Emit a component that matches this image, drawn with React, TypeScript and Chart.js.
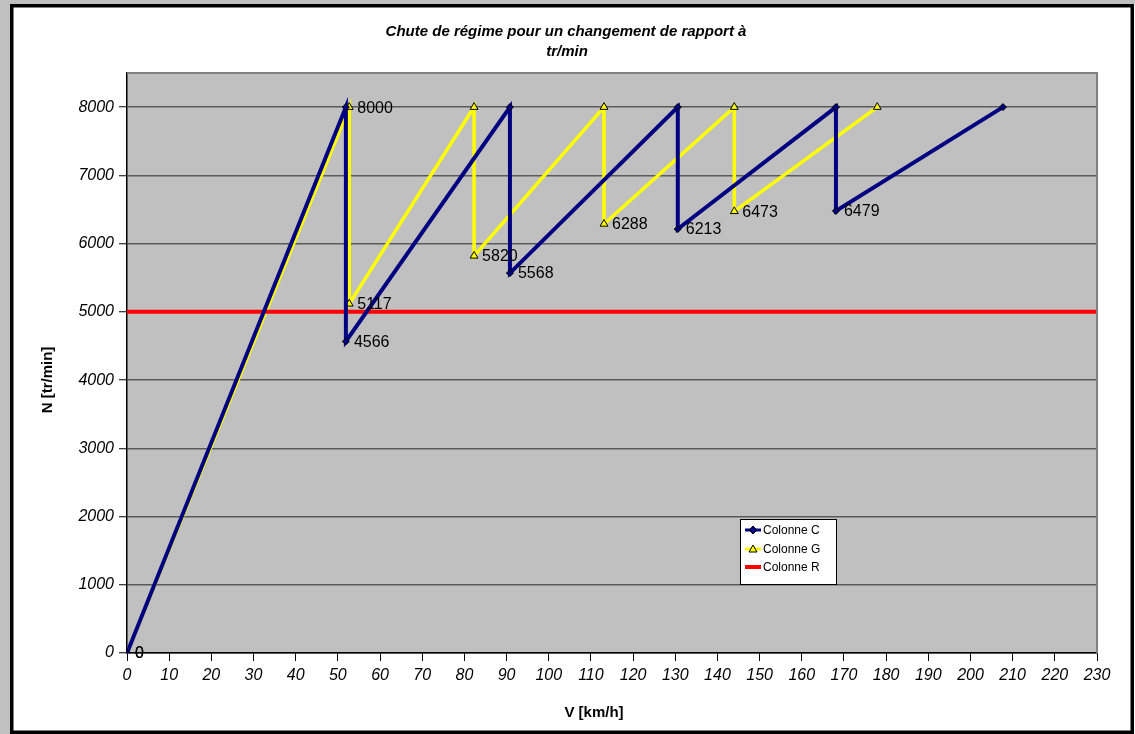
import React, { useEffect, useRef } from "react";
import { Chart, registerables } from "chart.js";

Chart.register(...registerables);

// Colonne C (navy)
const speedsC = [0, 51.9, 51.9, 90.8, 90.8, 130.6, 130.6, 168.1, 168.1, 207.7];
const rpmC = [0, 8000, 4566, 8000, 5568, 8000, 6213, 8000, 6479, 8000];
const labelIdxC = [0, 2, 4, 6, 8];

// Colonne G (yellow)
const speedsG = [0, 52.7, 52.7, 82.3, 82.3, 113.1, 113.1, 144.0, 144.0, 177.9];
const rpmG = [0, 8000, 5117, 8000, 5820, 8000, 6288, 8000, 6473, 8000];
const labelIdxG = [0, 1, 2, 4, 6, 8];

// Colonne R (red)
const speedsR = [0, 230];
const rpmR = [5000, 5000];

const yTickValues = [0, 1000, 2000, 3000, 4000, 5000, 6000, 7000, 8000];
const xTickValues = [0, 10, 20, 30, 40, 50, 60, 70, 80, 90, 100, 110, 120, 130, 140, 150, 160, 170, 180, 190, 200, 210, 220, 230];

const titleLines = ["Chute de régime pour un changement de rapport à", "tr/min"];
const xTitle = "V [km/h]";
const yTitle = "N [tr/min]";
const legendNames = ["Colonne C", "Colonne G", "Colonne R"];

const NAVY = "#000080";
const YELLOW = "#ffff00";
const RED = "#ff0000";
const FONT = "'Liberation Sans', Arial, sans-serif";

const toPts = (xs: number[], ys: number[]) => xs.map((x, i) => ({ x, y: ys[i] }));

const decorPlugin = {
  id: "decor",
  beforeDraw(chart: any) {
    const { ctx, width, height, chartArea } = chart;
    ctx.save();
    ctx.fillStyle = "#c0c0c0";
    ctx.fillRect(0, 0, width, height);
    ctx.fillStyle = "#ffffff";
    ctx.fillRect(10, 4, width - 10, height - 4);
    ctx.strokeStyle = "#000";
    ctx.lineWidth = 3.5;
    ctx.strokeRect(11.75, 5.75, 1120.5, 726.5);
    ctx.fillStyle = "#c0c0c0";
    ctx.fillRect(chartArea.left, chartArea.top, chartArea.right - chartArea.left, chartArea.bottom - chartArea.top);
    ctx.restore();
  },
  afterDraw(chart: any) {
    const { ctx, chartArea } = chart;
    ctx.save();
    // plot area border top/right
    ctx.strokeStyle = "#808080";
    ctx.lineWidth = 2;
    ctx.beginPath();
    ctx.moveTo(chartArea.left, chartArea.top);
    ctx.lineTo(chartArea.right, chartArea.top);
    ctx.lineTo(chartArea.right, chartArea.bottom);
    ctx.stroke();

    // title
    ctx.fillStyle = "#000";
    ctx.textAlign = "center";
    ctx.textBaseline = "alphabetic";
    ctx.font = `italic bold 15px ${FONT}`;
    ctx.fillText(titleLines[0], 566, 36);
    ctx.fillText(titleLines[1], 567, 56);

    // axis titles
    ctx.font = `bold 15px ${FONT}`;
    ctx.fillText(xTitle, 594, 717);
    ctx.save();
    ctx.translate(52, 380);
    ctx.rotate(-Math.PI / 2);
    ctx.fillText(yTitle, 0, 0);
    ctx.restore();

    // data labels
    ctx.font = `16px ${FONT}`;
    ctx.textAlign = "left";
    ctx.textBaseline = "middle";
    ctx.fillStyle = "#000";
    const drawLabels = (dsIndex: number, idxs: number[], vals: number[]) => {
      const meta = chart.getDatasetMeta(dsIndex);
      idxs.forEach((i) => {
        const el = meta.data[i];
        if (!el) return;
        ctx.fillText(String(vals[i]), el.x + 8, el.y + 1);
      });
    };
    drawLabels(0, labelIdxC, rpmC);
    drawLabels(1, labelIdxG, rpmG);

    // legend
    const lx = 740, ly = 519, lw = 96, lh = 65;
    ctx.fillStyle = "#fff";
    ctx.fillRect(lx, ly, lw, lh);
    ctx.strokeStyle = "#000";
    ctx.lineWidth = 1;
    ctx.strokeRect(lx + 0.5, ly + 0.5, lw, lh);
    const rows = [530, 549, 567];
    const colors = [NAVY, YELLOW, RED];
    rows.forEach((ry, k) => {
      ctx.strokeStyle = colors[k];
      ctx.lineWidth = k === 2 ? 4 : 3;
      ctx.beginPath();
      ctx.moveTo(745, ry);
      ctx.lineTo(761, ry);
      ctx.stroke();
      if (k === 0) {
        ctx.fillStyle = NAVY;
        ctx.strokeStyle = "#000";
        ctx.lineWidth = 1;
        ctx.beginPath();
        ctx.moveTo(753, ry - 4);
        ctx.lineTo(757, ry);
        ctx.lineTo(753, ry + 4);
        ctx.lineTo(749, ry);
        ctx.closePath();
        ctx.fill();
        ctx.stroke();
      } else if (k === 1) {
        ctx.fillStyle = YELLOW;
        ctx.strokeStyle = "#000";
        ctx.lineWidth = 1;
        ctx.beginPath();
        ctx.moveTo(753, ry - 4);
        ctx.lineTo(757, ry + 3);
        ctx.lineTo(749, ry + 3);
        ctx.closePath();
        ctx.fill();
        ctx.stroke();
      }
      ctx.fillStyle = "#000";
      ctx.font = `12px ${FONT}`;
      ctx.textAlign = "left";
      ctx.textBaseline = "middle";
      ctx.fillText(legendNames[k], 763, ry + 1);
    });
    ctx.restore();
  },
};

export default function App() {
  const ref = useRef<HTMLCanvasElement | null>(null);
  useEffect(() => {
    document.body.style.margin = "0";
    const canvas = ref.current!;
    const chart = new Chart(canvas, {
      type: "line",
      data: {
        datasets: [
          {
            label: legendNames[0],
            data: toPts(speedsC, rpmC),
            borderColor: NAVY,
            backgroundColor: NAVY,
            borderWidth: 4,
            pointStyle: "rectRot",
            pointRadius: 3.5,
            pointBackgroundColor: NAVY,
            pointBorderColor: "#000",
            pointBorderWidth: 1,
            tension: 0,
            order: 0,
          },
          {
            label: legendNames[1],
            data: toPts(speedsG, rpmG),
            borderColor: YELLOW,
            backgroundColor: YELLOW,
            borderWidth: 3.5,
            pointStyle: "triangle",
            pointRadius: 4.5,
            pointBackgroundColor: YELLOW,
            pointBorderColor: "#000",
            pointBorderWidth: 1,
            tension: 0,
            order: 2,
          },
          {
            label: legendNames[2],
            data: toPts(speedsR, rpmR),
            borderColor: RED,
            backgroundColor: RED,
            borderWidth: 4,
            pointRadius: 0,
            tension: 0,
            order: 1,
          },
        ],
      },
      options: {
        responsive: false,
        animation: false,
        devicePixelRatio: 1,
        layout: { padding: { top: 73, right: 38, left: 0, bottom: 0 } },
        plugins: {
          legend: { display: false },
          title: { display: false },
          tooltip: { enabled: false },
        },
        scales: {
          x: {
            type: "linear",
            min: 0,
            max: 230,
            afterFit: (s: any) => {
              s.height = 81;
            },
            afterBuildTicks: (s: any) => {
              s.ticks = xTickValues.map((v) => ({ value: v }));
            },
            ticks: {
              autoSkip: false,
              maxRotation: 0,
              padding: 5,
              color: "#000",
              font: { family: FONT, size: 16, style: "italic" },
              callback: (v: any) => String(v),
            },
            grid: {
              drawOnChartArea: false,
              drawTicks: true,
              tickLength: 8,
              tickColor: "#000",
              tickWidth: 1,
            },
            border: { color: "#000", width: 1.5 },
          },
          y: {
            type: "linear",
            min: 0,
            max: 8500,
            afterFit: (s: any) => {
              s.width = 127;
            },
            afterBuildTicks: (s: any) => {
              s.ticks = yTickValues.map((v) => ({ value: v }));
            },
            ticks: {
              autoSkip: false,
              padding: 5,
              color: "#000",
              font: { family: FONT, size: 16, style: "italic" },
              callback: (v: any) => String(v),
            },
            grid: {
              color: "#5a5a5a",
              lineWidth: 1.5,
              drawTicks: true,
              tickLength: 8,
              tickColor: "#000",
              tickWidth: 1,
            },
            border: { color: "#000", width: 1.5 },
          },
        },
      },
      plugins: [decorPlugin],
    });
    return () => chart.destroy();
  }, []);
  return (
    <div style={{ position: "fixed", left: 0, top: 0, width: 1135, height: 734 }}>
      <canvas ref={ref} width={1135} height={734} style={{ width: 1135, height: 734, display: "block" }} />
    </div>
  );
}
